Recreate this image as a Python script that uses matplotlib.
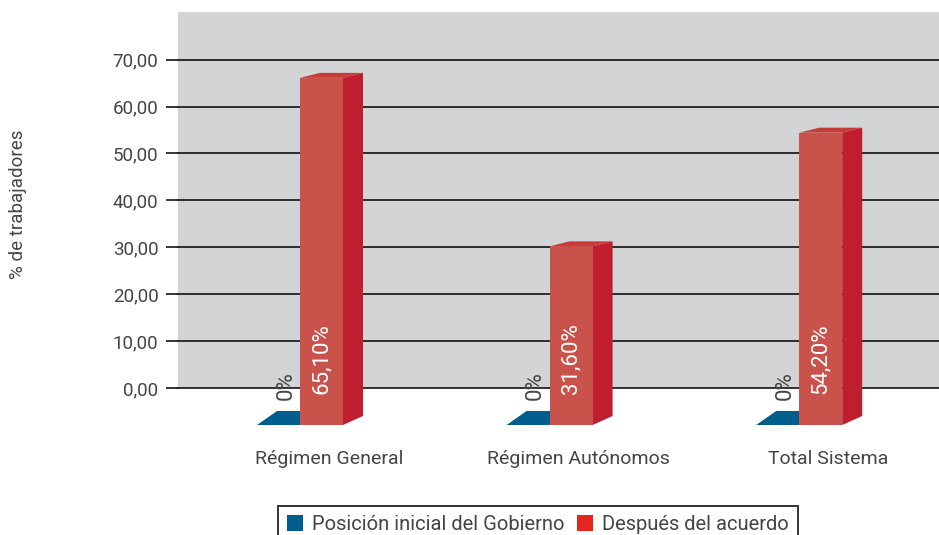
import matplotlib
matplotlib.use('Agg')
import matplotlib.pyplot as plt
from matplotlib.patches import Polygon, Patch
from matplotlib.transforms import IdentityTransform

# ---------------- data ----------------
categories = ['Régimen General', 'Régimen Autónomos', 'Total Sistema']
series_names = ['Posición inicial del Gobierno', 'Después del acuerdo']
gobierno = [0.0, 0.0, 0.0]
acuerdo = [65.10, 31.60, 54.20]
gobierno_labels = ['0%', '0%', '0%']
acuerdo_labels = ['65,10%', '31,60%', '54,20%']
yticks = [0, 10, 20, 30, 40, 50, 60, 70]
ytick_labels = ['0,00', '10,00', '20,00', '30,00', '40,00', '50,00', '60,00', '70,00']
y_label = '% de trabajadores'

# ---------------- style ----------------
plt.rcParams['font.family'] = ['Roboto', 'DejaVu Sans']
TXT = '#454545'
WALL = '#d3d4d6'
RED_FRONT = '#c9524a'
RED_SIDE = '#be1e2e'
RED_TOP = '#c73b39'
BLUE = '#005e8c'
LEG_RED = '#e3261f'

W, H = 939, 535
fig = plt.figure(figsize=(W / 100, H / 100), dpi=100)

# ---------------- back wall with value axis ----------------
ax = fig.add_axes([178 / W, 1 - 388 / H, (W - 178) / W, (388 - 12) / H])
ax.set_facecolor(WALL)
ax.set_ylim(0, 376 / 4.69)
ax.set_xlim(0, 1)
for s in ax.spines.values():
    s.set_visible(False)
ax.set_xticks([])
ax.set_yticks(yticks)
ax.set_yticklabels(ytick_labels, fontsize=13.5, color=TXT)
ax.tick_params(axis='y', direction='out', length=8.6, width=1.1, color='black', pad=5.5)
for v in yticks:
    ax.axhline(v, color='black', lw=1.1, clip_on=False, zorder=1)
fig.text(18 / W, 1 - 204 / H, y_label, rotation=90, ha='center', va='center',
         fontsize=13.5, color=TXT)

# ---------------- 3D-looking bars (overlay axes) ----------------
bx = fig.add_axes([0, 0, 1, 1])
bx.set_axis_off()
bx.patch.set_alpha(0)
group_step = 249.6
bx.set_xlim(-300 / group_step, (W - 300) / group_step)
front_k = 5.03
bx.set_ylim(-(H - 405.3) / front_k, 405.3 / front_k)
floor_v = -(425 - 405.3) / front_k
bar_w = 43 / group_step
dx, dy_top, dy_bot, dy_blue = 20, 5, 9, 14

ident = IdentityTransform()


def P(x, y):
    return bx.transData.transform((x, y))


for i, (g, a) in enumerate(zip(gobierno, acuerdo)):
    # blue series (0 height -> flat top face)
    bl, bb = P(i - bar_w, floor_v)
    br, bt = P(i, floor_v + g)
    top_b = [(bl, bt), (br, bt), (br + dx, bt + dy_blue), (bl + dx, bt + dy_blue)]
    bx.add_patch(Polygon(top_b, closed=True, facecolor=BLUE, edgecolor='none',
                         transform=ident, zorder=3))
    # red series
    xl, yb = P(i, floor_v)
    xr, yt = P(i + bar_w, a)
    front = [(xl, yb), (xr, yb), (xr, yt), (xl, yt)]
    side = [(xr, yb), (xr + dx, yb + dy_bot), (xr + dx, yt + dy_top), (xr, yt)]
    top = [(xl, yt), (xr, yt), (xr + dx, yt + dy_top), (xl + dx, yt + dy_top)]
    bx.add_patch(Polygon(side, closed=True, facecolor=RED_SIDE, edgecolor='none',
                         transform=ident, zorder=4))
    bx.add_patch(Polygon(top, closed=True, facecolor=RED_TOP, edgecolor='none',
                         transform=ident, zorder=4))
    bx.add_patch(Polygon(front, closed=True, facecolor=RED_FRONT, edgecolor='none',
                         transform=ident, zorder=5))
    # labels
    bx.annotate(acuerdo_labels[i], xy=(i + bar_w / 2, floor_v), xytext=(0, 31 * 0.72),
                textcoords='offset points', rotation=90, ha='center', va='bottom',
                color='white', fontsize=16, zorder=6)
    bx.annotate(gobierno_labels[i], xy=(i, floor_v), xytext=(-14 * 0.72, 25 * 0.72),
                textcoords='offset points', rotation=90, ha='center', va='bottom',
                color=TXT, fontsize=16, zorder=6)
    # category label
    bx.annotate(categories[i], xy=(i + 0.115, floor_v), xytext=(0, -34 * 0.72),
                textcoords='offset points', ha='center', va='center',
                color=TXT, fontsize=14)

# ---------------- legend ----------------
handles = [Patch(facecolor=BLUE, edgecolor='none'), Patch(facecolor=LEG_RED, edgecolor='none')]
leg = fig.legend(handles, series_names, loc='upper center',
                 bbox_to_anchor=(538 / W, 1 - 506 / H), ncol=2, frameon=True,
                 fancybox=False, fontsize=14.5, handlelength=0.8, handleheight=0.8,
                 handletextpad=0.45, columnspacing=0.6, borderpad=0.45, labelcolor=TXT,
                 borderaxespad=0)
leg.get_frame().set_edgecolor('black')
leg.get_frame().set_linewidth(1.4)

fig.savefig('out.png', dpi=100)
